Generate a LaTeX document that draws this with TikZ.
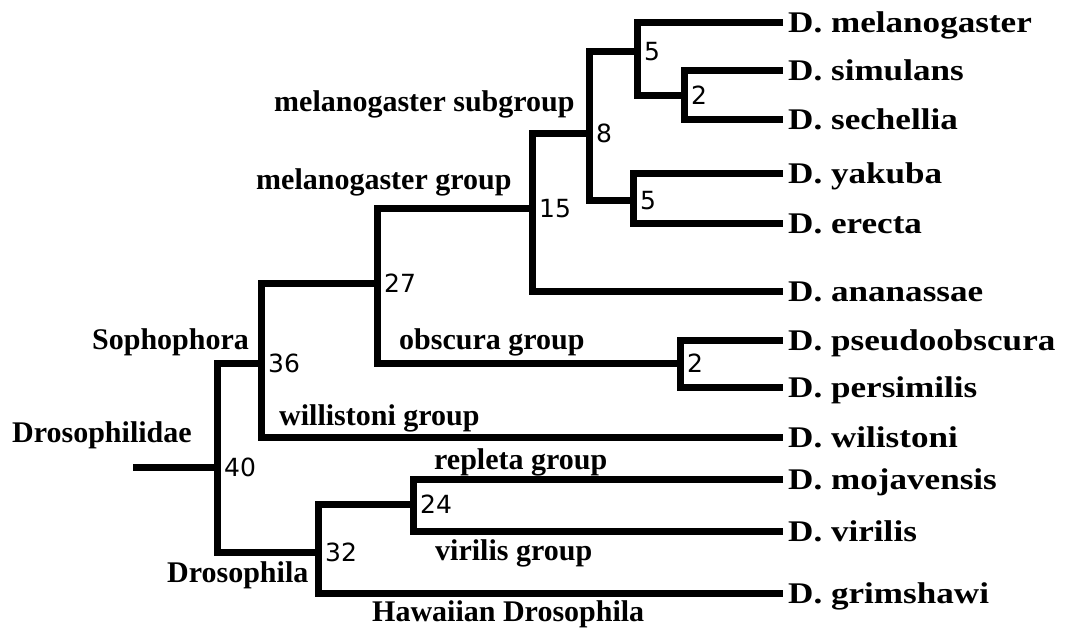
\documentclass[tikz,border=0pt]{standalone}
\usepackage{fontspec}
\setmainfont{Liberation Serif}
\newfontfamily\leaffont[FakeStretch=1.17]{Liberation Serif}
\newfontfamily\numfont{DejaVu Sans}
\usetikzlibrary{positioning}

\begin{document}
\begin{tikzpicture}[x=1pt,y=-1pt,
    branch/.style={line width=7pt},
    leaf/.style={anchor=west,inner xsep=5pt,inner ysep=0pt,
                 text height=20pt,text depth=0pt,
                 font=\leaffont\bfseries\fontsize{30}{36}\selectfont},
    grp/.style={anchor=west,inner sep=0pt,text height=20pt,
                text depth=0pt,font=\bfseries\fontsize{30}{36}\selectfont},
    boot/.style={anchor=west,inner sep=0pt,xshift=7pt,
                 text height=18pt,text depth=0pt,
                 font=\numfont\fontsize{25}{30}\selectfont},
  ]
  \useasboundingbox (0,0) rectangle (1069,627);

  \node[leaf](mel) at (783,22) {D. melanogaster};
  \node[leaf](sim) at (783,70) {D. simulans};
  \node[leaf](sech) at (783,119) {D. sechellia};
  \node[leaf](yak) at (783,173) {D. yakuba};
  \node[leaf](ere) at (783,223) {D. erecta};
  \node[leaf](ana) at (783,291) {D. ananassae};
  \node[leaf](pse) at (783,340) {D. pseudoobscura};
  \node[leaf](per) at (783,387) {D. persimilis};
  \node[leaf](wil) at (783,437) {D. wilistoni};
  \node[leaf](moj) at (783,479) {D. mojavensis};
  \node[leaf](vir) at (783,531) {D. virilis};
  \node[leaf](gri) at (783,593) {D. grimshawi};

  \coordinate (n2a) at (684,95);
  \coordinate (n5a) at (637,51);
  \coordinate (n5b) at (633,200);
  \coordinate (n8) at (589,133);
  \coordinate (n15) at (532,208);
  \coordinate (n2b) at (680,363);
  \coordinate (n27) at (377,283);
  \coordinate (n36) at (261,363);
  \coordinate (n24) at (413,504);
  \coordinate (n32) at (318,552);
  \coordinate (n40) at (217,467);
  \coordinate (root) at (133,467);

  \draw[branch](sim.west) -| (n2a) |- (sech.west);
  \draw[branch](mel.west) -| (n5a) |- (n2a);
  \draw[branch](yak.west) -| (n5b) |- (ere.west);
  \draw[branch](n5a) -| (n8) |- (n5b);
  \draw[branch](n8) -| (n15) |- (ana.west);
  \draw[branch](pse.west) -| (n2b) |- (per.west);
  \draw[branch](n15) -| (n27) |- (n2b);
  \draw[branch](n27) -| (n36) |- (wil.west);
  \draw[branch](moj.west) -| (n24) |- (vir.west);
  \draw[branch](n24) -| (n32) |- (gri.west);
  \draw[branch](n36) -| (n40) |- (n32);
  \draw[branch](root) -- (n40);

  \node[boot](b2a) at (n2a) {2};
  \node[boot](b5a) at (n5a) {5};
  \node[boot](b5b) at (n5b) {5};
  \node[boot](b8) at (n8) {8};
  \node[boot](b15) at (n15) {15};
  \node[boot](b2b) at (n2b) {2};
  \node[boot](b27) at (n27) {27};
  \node[boot](b36) at (n36) {36};
  \node[boot](b24) at (n24) {24};
  \node[boot](b32) at (n32) {32};
  \node[boot](b40) at (n40) {40};

  \node[grp](gsub) at (274,101) {melanogaster subgroup};
  \node[grp](gmel) at (256,179) {melanogaster group};
  \node[grp](gsoph) at (92,339) {Sophophora};
  \node[grp](gfam) at (12,432) {Drosophilidae};
  \node[grp](gwil) at (279,415) {willistoni group};
  \node[grp](gobs) at (399,339) {obscura group};
  \node[grp](grep) at (434,459) {repleta group};
  \node[grp](gvir) at (435,550) {virilis group};
  \node[grp](gdros) at (167,572) {Drosophila};
  \node[grp](ghaw) at (372,611) {Hawaiian Drosophila};
\end{tikzpicture}
\end{document}
